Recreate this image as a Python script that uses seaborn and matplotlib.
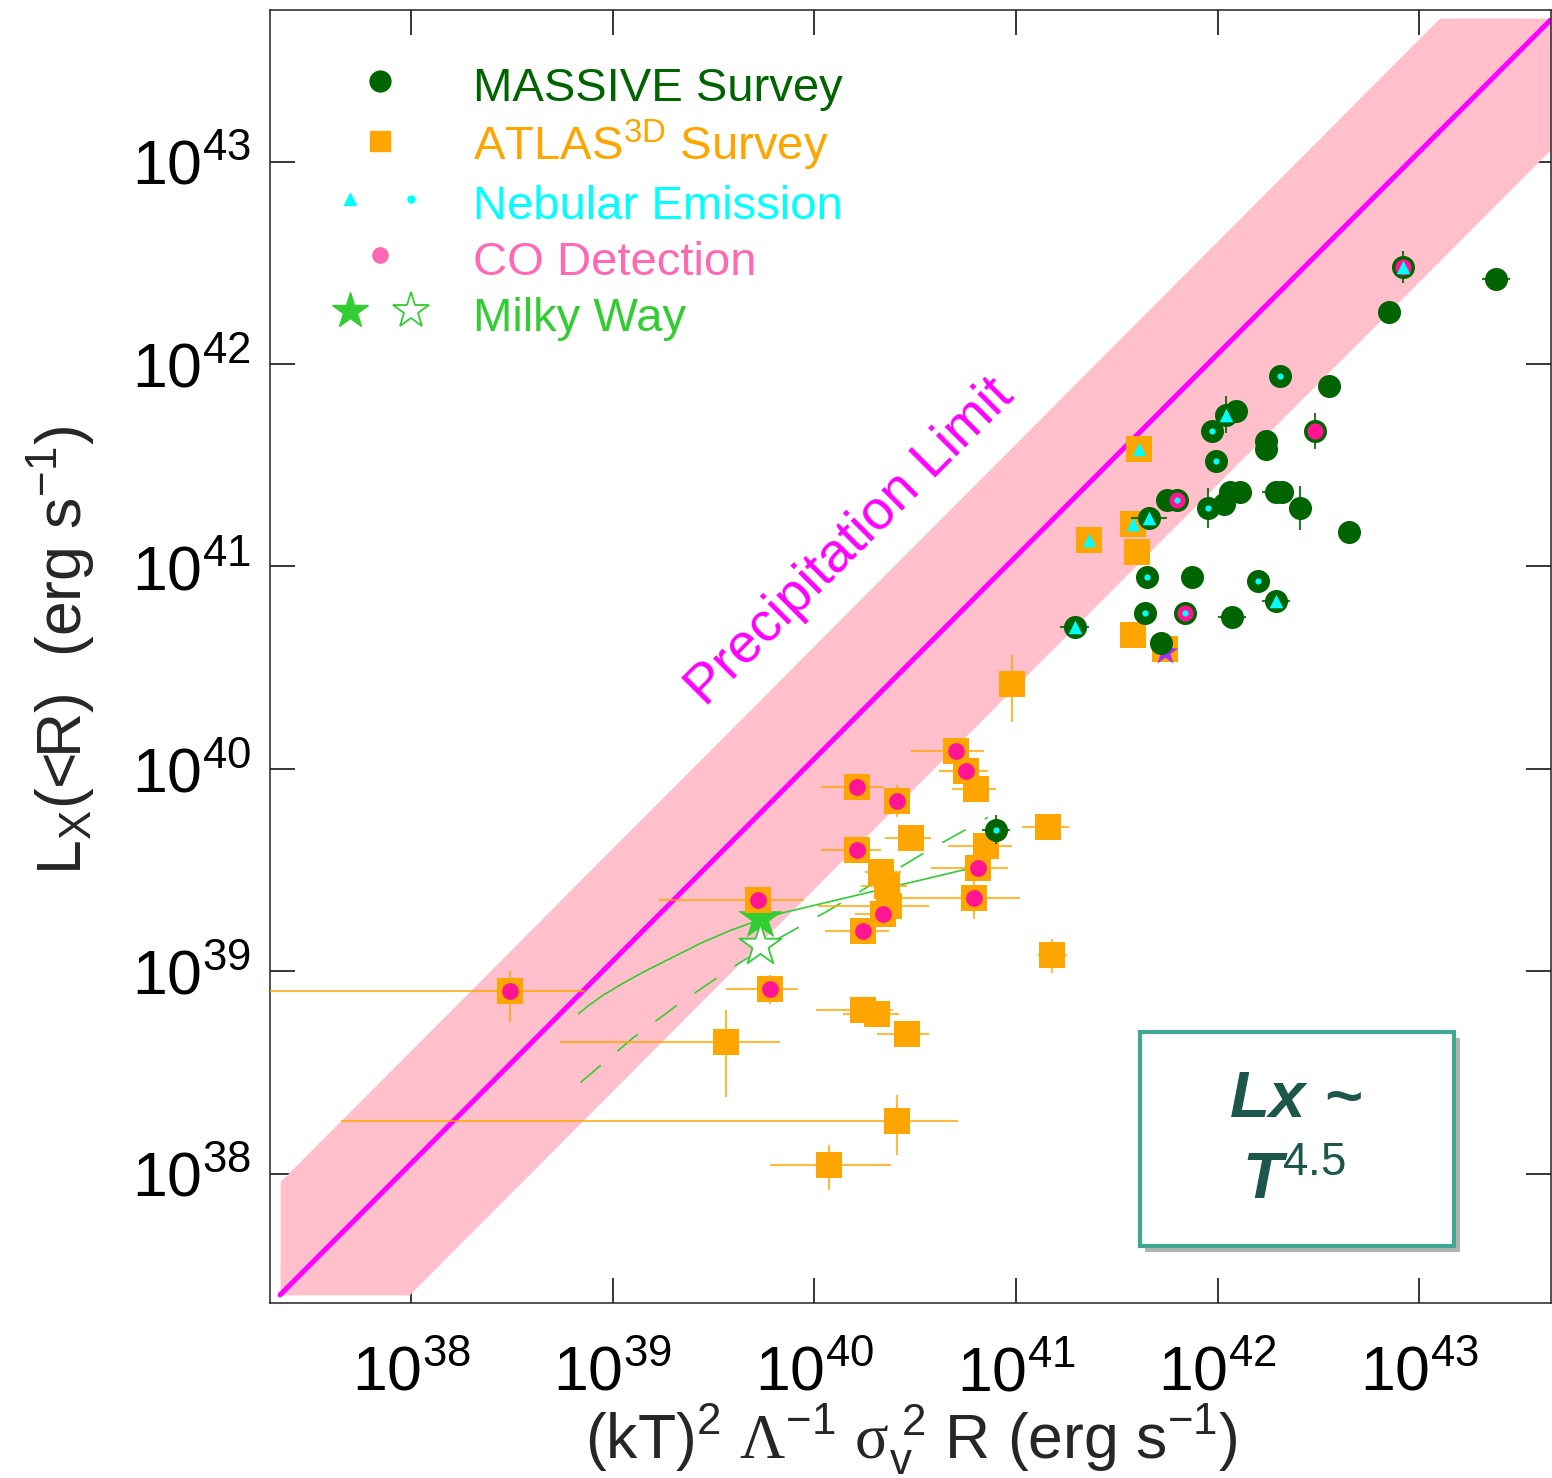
import numpy as np
import pandas as pd
import seaborn as sns
import matplotlib.pyplot as plt
import matplotlib.patheffects as pe
from matplotlib.lines import Line2D
from matplotlib.legend_handler import HandlerTuple
from matplotlib.patches import Rectangle

# all values are log10 (erg s^-1)
massive_x = [42.92, 43.38, 42.85, 42.31, 42.55, 42.04, 42.09, 41.97, 42.48, 42.24, 42.24,
             41.99, 41.75, 41.80, 41.95, 42.06, 42.11, 42.03, 42.29, 42.32, 42.41, 42.65,
             41.66, 41.65, 41.87, 42.20, 42.29, 41.29, 41.64, 41.84, 42.07, 41.72, 40.90]
massive_y = [42.48, 42.42, 42.26, 41.94, 41.89, 41.75, 41.77, 41.67, 41.67, 41.62, 41.58,
             41.52, 41.33, 41.33, 41.29, 41.37, 41.37, 41.31, 41.37, 41.37, 41.29, 41.17,
             41.24, 40.95, 40.95, 40.93, 40.83, 40.70, 40.77, 40.77, 40.75, 40.62, 39.70]
massive_neb = ['tri', '', '', 'dot', '', 'tri', '', 'dot', '', '', '',
               'dot', '', 'dot', 'dot', '', '', '', '', '', '', '',
               'tri', 'dot', '', 'dot', 'tri', 'tri', 'dot', 'dot', '', '', 'dot']
massive_co = [1, 0, 0, 0, 0, 0, 0, 0, 1, 0, 0,
              0, 0, 1, 0, 0, 0, 0, 0, 0, 0, 0,
              0, 0, 0, 0, 0, 0, 0, 1, 0, 0, 0]
massive_xerr = [0, 0.07, 0, 0, 0, 0, 0, 0, 0, 0, 0,
                0, 0, 0.03, 0, 0, 0, 0, 0.07, 0, 0, 0,
                0.09, 0, 0, 0, 0.07, 0.07, 0, 0, 0.07, 0, 0.07]
massive_yerr = [0.08, 0, 0, 0.03, 0.05, 0.09, 0, 0, 0.09, 0, 0,
                0, 0, 0, 0.10, 0, 0, 0, 0, 0, 0.11, 0,
                0.05, 0, 0, 0, 0, 0, 0, 0, 0, 0, 0.07]

atlas_x = [41.61, 41.36, 41.58, 41.60, 41.58, 41.74, 40.98, 40.70, 40.75, 40.80, 40.21,
           40.41, 40.48, 40.21, 41.16, 40.85, 40.81, 40.79, 40.33, 40.36, 40.37, 40.34,
           40.24, 39.72, 39.78, 38.49, 41.18, 40.24, 40.31, 40.46, 39.56, 40.41, 40.07]
atlas_y = [41.58, 41.13, 41.21, 41.07, 40.66, 40.59, 40.42, 40.09, 39.99, 39.90, 39.91,
           39.84, 39.66, 39.60, 39.71, 39.62, 39.51, 39.36, 39.49, 39.42, 39.32, 39.28,
           39.20, 39.35, 38.91, 38.90, 39.08, 38.81, 38.79, 38.69, 38.65, 38.26, 38.04]
atlas_neb = ['tri', 'tri', 'tri'] + [''] * 30
atlas_co = [0, 0, 0, 0, 0, 0, 0, 1, 1, 0, 1,
            1, 0, 1, 0, 0, 1, 1, 0, 0, 0, 1,
            1, 1, 1, 1, 0, 0, 0, 0, 0, 0, 0]
atlas_xlo = [0, 0, 0, 0, 0, 0, 0, 0.22, 0.13, 0.12, 0.18,
             0, 0.13, 0.18, 0.13, 0.19, 0.23, 0.37, 0.08, 0.13, 0.35, 0.14,
             0.19, 0.49, 0.22, 1.5, 0.07, 0.23, 0.17, 0.15, 0.82, 2.76, 0.29]
atlas_xhi = [0, 0, 0, 0, 0, 0, 0, 0.14, 0.11, 0.10, 0.13,
             0, 0.10, 0.12, 0.10, 0.13, 0.15, 0.23, 0.10, 0.10, 0.20, 0.08,
             0.13, 0.23, 0.14, 0.37, 0.07, 0.15, 0.11, 0.11, 0.27, 0.30, 0.31]
atlas_ylo = [0, 0, 0, 0, 0, 0, 0.19, 0, 0, 0, 0,
             0.08, 0, 0, 0, 0, 0, 0.10, 0, 0, 0, 0,
             0, 0, 0.07, 0.15, 0.09, 0, 0, 0, 0.27, 0.17, 0.12]
atlas_yhi = [0, 0, 0, 0, 0, 0, 0.14, 0, 0, 0, 0,
             0.08, 0, 0, 0, 0, 0, 0.09, 0, 0, 0, 0,
             0, 0, 0.07, 0.10, 0.08, 0, 0, 0, 0.16, 0.13, 0.10]

odd_x = [41.74]
odd_y = [40.575]

mw_x = [39.73, 39.73]
mw_y = [39.265, 39.13]
mw_solid_x = [38.83, 38.88, 38.95, 39.05, 39.16, 39.30, 39.44, 39.58, 39.69, 39.73, 39.85, 40.78]
mw_solid_y = [38.79, 38.83, 38.88, 38.94, 39.00, 39.07, 39.14, 39.20, 39.24, 39.255, 39.29, 39.51]
mw_dash_x = [38.84, 39.10, 39.33, 39.58, 39.82, 40.07, 40.57, 40.86]
mw_dash_y = [38.45, 38.67, 38.84, 39.01, 39.16, 39.30, 39.60, 39.76]

limit_x = [37.35, 43.65]
limit_y = [37.40, 43.70]
band_up = 0.56
band_dn = 0.64
band_clip = [37.40, 43.71]

tick_exp = [38, 39, 40, 41, 42, 43]

green = '#006400'
orange = '#FFA500'
cyan = '#00FFFF'
copink = '#FF1493'
lime = '#32CD32'

sns.set_style('ticks')
plt.rcParams['font.family'] = ['Liberation Sans', 'DejaVu Sans']
plt.rcParams['mathtext.fontset'] = 'custom'
plt.rcParams['mathtext.rm'] = 'Liberation Sans'
plt.rcParams['mathtext.it'] = 'Liberation Sans:italic'
plt.rcParams['mathtext.bf'] = 'Liberation Sans:bold'
plt.rcParams['mathtext.bfit'] = 'Liberation Sans:italic:bold'
plt.rcParams['mathtext.sf'] = 'Liberation Serif'

fig = plt.figure(figsize=(15.52, 14.78), dpi=100)
ax = fig.add_axes([0.17397, 0.1184, 0.8257, 0.87483])

# precipitation limit band + line
gx = np.linspace(limit_x[0], limit_x[1], 600)
gl = np.interp(gx, limit_x, limit_y)
lo = np.clip(gl - band_dn, band_clip[0], band_clip[1])
hi = np.clip(gl + band_up, band_clip[0], band_clip[1])
ax.fill_between(10 ** gx, 10 ** lo, 10 ** hi, color='pink', lw=0, zorder=1)
ax.plot(10 ** np.array(limit_x), 10 ** np.array(limit_y), color='magenta', lw=3.6, zorder=2)

# milky way tracks
ax.plot(10 ** np.array(mw_solid_x), 10 ** np.array(mw_solid_y), color=lime, lw=1.2, zorder=3)
ax.plot(10 ** np.array(mw_dash_x), 10 ** np.array(mw_dash_y), color=lime, lw=1.2,
        dashes=(16, 13), zorder=3)
ax.scatter(10 ** mw_x[0], 10 ** mw_y[0], marker='*', s=1150, color=lime, lw=0, zorder=4)
ax.scatter(10 ** mw_x[1], 10 ** mw_y[1], marker='*', s=1000, facecolor='white',
           edgecolor=lime, lw=1.3, zorder=4)

atl = pd.DataFrame({'x': 10 ** np.array(atlas_x), 'y': 10 ** np.array(atlas_y),
                    'neb': atlas_neb, 'co': atlas_co})
ax_lx = np.array(atlas_x)
ax_ly = np.array(atlas_y)
ax.errorbar(atl['x'], atl['y'],
            xerr=[atl['x'] - 10 ** (ax_lx - np.array(atlas_xlo)), 10 ** (ax_lx + np.array(atlas_xhi)) - atl['x']],
            yerr=[atl['y'] - 10 ** (ax_ly - np.array(atlas_ylo)), 10 ** (ax_ly + np.array(atlas_yhi)) - atl['y']],
            fmt='none', ecolor=orange, elinewidth=1.5, alpha=0.75, capsize=0, zorder=5)
sns.scatterplot(data=atl, x='x', y='y', marker='s', s=360, color=orange, linewidth=0,
                ax=ax, zorder=6, legend=False)
sns.scatterplot(data=atl[atl['co'] == 1], x='x', y='y', marker='o', s=145, color=copink,
                linewidth=0, ax=ax, zorder=7, legend=False)
sns.scatterplot(data=atl[atl['neb'] == 'tri'], x='x', y='y', marker='^', s=95, color=cyan,
                linewidth=0, ax=ax, zorder=7, legend=False)
ax.scatter(10 ** np.array(odd_x), 10 ** np.array(odd_y), marker='*', s=380,
           color='#9B30FF', lw=0, zorder=7)

mas = pd.DataFrame({'x': 10 ** np.array(massive_x), 'y': 10 ** np.array(massive_y),
                    'neb': massive_neb, 'co': massive_co})
mx = np.array(massive_x)
my = np.array(massive_y)
ax.errorbar(mas['x'], mas['y'],
            xerr=[mas['x'] - 10 ** (mx - np.array(massive_xerr)), 10 ** (mx + np.array(massive_xerr)) - mas['x']],
            yerr=[mas['y'] - 10 ** (my - np.array(massive_yerr)), 10 ** (my + np.array(massive_yerr)) - mas['y']],
            fmt='none', ecolor=green, elinewidth=1.5, alpha=0.85, capsize=0, zorder=8)
sns.scatterplot(data=mas, x='x', y='y', marker='o', s=275, color=green, linewidth=0,
                ax=ax, zorder=9, legend=False)
sns.scatterplot(data=mas[mas['co'] == 1], x='x', y='y', marker='o', s=135, color=copink,
                linewidth=0, ax=ax, zorder=10, legend=False)
sns.scatterplot(data=mas[mas['neb'] == 'tri'], x='x', y='y', marker='^', s=95, color=cyan,
                linewidth=0, ax=ax, zorder=11, legend=False)
sns.scatterplot(data=mas[mas['neb'] == 'dot'], x='x', y='y', marker='o', s=20, color=cyan,
                linewidth=0, ax=ax, zorder=11, legend=False)

ax.set_xscale('log')
ax.set_yscale('log')
ax.set_xlim(10 ** 37.30, 10 ** 43.655)
ax.set_ylim(10 ** 37.36, 10 ** 43.75)
ax.set_xticks([10.0 ** e for e in tick_exp])
ax.set_yticks([10.0 ** e for e in tick_exp])
ax.set_xticklabels([r'$10^{%d}$' % e for e in tick_exp])
ax.set_yticklabels([r'$10^{%d}$' % e for e in tick_exp])
ax.xaxis.set_minor_locator(plt.NullLocator())
ax.yaxis.set_minor_locator(plt.NullLocator())
ax.tick_params(which='major', direction='in', length=18, width=1.1, top=True, right=True,
               labelsize=45, colors='black')
ax.tick_params(axis='x', pad=30)
ax.tick_params(axis='y', pad=14)
for sp in ax.spines.values():
    sp.set_linewidth(1.1)
    sp.set_color('#222222')

ax.set_xlabel(r'(kT)$^2$ $\mathsf{\Lambda}^{-1}$ $\mathsf{\sigma}_{\rm v}^{\ 2}$ R (erg s$^{-1}$)',
              fontsize=45)
ax.xaxis.set_label_coords(0.5008, -0.077)
ax.set_ylabel(r'L$_{\rm X}$(<R)  (erg s$^{-1}$)', fontsize=45)
ax.yaxis.set_label_coords(-0.135, 0.505)

ax.text(10 ** 40.18, 10 ** 41.12, 'Precipitation Limit', rotation=45, rotation_mode='anchor',
        ha='center', va='center', color='magenta', fontsize=40, zorder=12)

# legend
handles = [
    Line2D([], [], ls='none', marker='o', ms=15, mfc=green, mec=green),
    Line2D([], [], ls='none', marker='s', ms=15, mfc=orange, mec=orange),
    (Line2D([], [], ls='none', marker='^', ms=9, mfc=cyan, mec=cyan),
     Line2D([], [], ls='none', marker='o', ms=5, mfc=cyan, mec=cyan)),
    Line2D([], [], ls='none', marker='o', ms=11, mfc='#FF69B4', mec='#FF69B4'),
    (Line2D([], [], ls='none', marker='*', ms=27, mfc=lime, mec=lime),
     Line2D([], [], ls='none', marker='*', ms=27, mfc='white', mec=lime, mew=1.3)),
]
labels = ['MASSIVE Survey', r'ATLAS$^{\rm 3D}$ Survey', 'Nebular Emission', 'CO Detection', 'Milky Way']
leg = ax.legend(handles, labels, handler_map={tuple: HandlerTuple(ndivide=None, pad=0.34)},
                loc='upper left', bbox_to_anchor=(0.0445, 0.960), frameon=False, fontsize=34,
                handlelength=2.25, handleheight=1.15, handletextpad=0.85, labelspacing=0.14,
                borderpad=0, borderaxespad=0)
for t, c in zip(leg.get_texts(), [green, orange, cyan, '#FF69B4', lime]):
    t.set_color(c)

# LX ~ T^4.5 box
box = Rectangle((0.6786, 0.0441), 0.2457, 0.1655, transform=ax.transAxes, facecolor='white',
                edgecolor='#40A892', lw=3, zorder=13,
                path_effects=[pe.SimplePatchShadow(offset=(4, -4), shadow_rgbFace='#666666', alpha=0.5),
                              pe.Normal()])
ax.add_patch(box)
ax.text(0.8003, 0.157, r'$\mathbfit{Lx}$ ~', transform=ax.transAxes, ha='center', va='center',
        fontsize=47, color='#1D564A', fontweight='bold', style='italic', zorder=14)
ax.text(0.799, 0.093, r'$\mathbfit{T}^{4.5}$', transform=ax.transAxes, ha='center', va='center',
        fontsize=47, color='#1D564A', zorder=14)

fig.savefig('out.png', dpi=100)
